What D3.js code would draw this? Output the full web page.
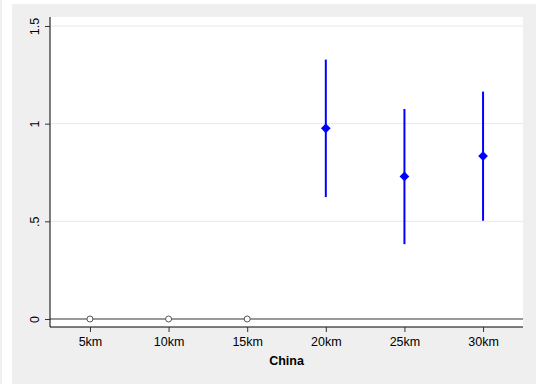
<!DOCTYPE html>
<html>
<head>
<meta charset="utf-8">
<script src="https://cdn.jsdelivr.net/npm/d3@7"></script>
<style>
  body { margin: 0; background: #fff; }
  svg { display: block; font-family: "Liberation Sans", Arial, sans-serif; }
</style>
</head>
<body>
<div id="chart-area"></div>
<script>
// data
const distances = [5, 10, 15, 20, 25, 30];
const tickLabels = ["5km", "10km", "15km", "20km", "25km", "30km"];
const estimates = [0, 0, 0, 0.976, 0.730, 0.834];
const lowerCI = [null, null, null, 0.624, 0.383, 0.503];
const upperCI = [null, null, null, 1.328, 1.075, 1.164];
const yTicks = [0, 0.5, 1, 1.5];
const yTickLabels = ["0", ".5", "1", "1.5"];
const xTitle = "China";

const W = 536, H = 384;
const MARGIN = { LEFT: 50, RIGHT: 13, TOP: 17, BOTTOM: 57 };
const WIDTH = W - MARGIN.LEFT - MARGIN.RIGHT;
const HEIGHT = H - MARGIN.TOP - MARGIN.BOTTOM;

const svg = d3.select("#chart-area").append("svg")
  .attr("width", W)
  .attr("height", H);

// outer frame
svg.append("rect").attr("width", W).attr("height", H).attr("fill", "#ffffff");
svg.append("rect").attr("x", 0).attr("y", 0).attr("width", 2).attr("height", H).attr("fill", "#efefef");
svg.append("rect").attr("x", 12).attr("y", 4).attr("width", W - 12).attr("height", H - 4).attr("fill", "#efefef");

const g = svg.append("g")
  .attr("transform", `translate(${MARGIN.LEFT}, ${MARGIN.TOP})`);

g.append("rect")
  .attr("width", WIDTH)
  .attr("height", HEIGHT)
  .attr("fill", "#ffffff");

// scales
const x = d3.scaleLinear().domain([2.46, 32.54]).range([0, WIDTH]);
const y = d3.scaleLinear().domain([-0.041, 1.546]).range([HEIGHT, 0]);

// gridlines
g.selectAll(".grid")
  .data(yTicks.filter(d => d !== 0))
  .enter().append("line")
  .attr("class", "grid")
  .attr("x1", 0).attr("x2", WIDTH)
  .attr("y1", d => y(d)).attr("y2", d => y(d))
  .attr("stroke", "#e8e8e8")
  .attr("stroke-width", 1);

// reference line at zero
g.append("line")
  .attr("x1", 0).attr("x2", WIDTH)
  .attr("y1", y(0)).attr("y2", y(0))
  .attr("stroke", "#777")
  .attr("stroke-width", 1.5);

// axes
const yAxisCall = d3.axisLeft(y)
  .tickValues(yTicks)
  .tickFormat((d, i) => yTickLabels[i])
  .tickSize(5)
  .tickSizeOuter(0);
const yAxis = g.append("g").call(yAxisCall);
yAxis.select(".domain").attr("stroke", "#000").attr("d", `M0,0V${HEIGHT}`);
yAxis.selectAll(".tick line").attr("stroke", "#333");
yAxis.selectAll(".tick text")
  .attr("x", 0).attr("dy", 0)
  .attr("transform", "translate(-11,0) rotate(-90)")
  .attr("text-anchor", "middle")
  .attr("font-size", "12.5px")
  .attr("fill", "#000");

const xAxisCall = d3.axisBottom(x)
  .tickValues(distances)
  .tickFormat((d, i) => tickLabels[i])
  .tickSize(5)
  .tickSizeOuter(0);
const xAxis = g.append("g")
  .attr("transform", `translate(0, ${HEIGHT})`)
  .call(xAxisCall);
xAxis.select(".domain").attr("stroke", "#000").attr("d", `M0,0H${WIDTH}`);
xAxis.selectAll(".tick line").attr("stroke", "#333");
xAxis.selectAll(".tick text")
  .attr("y", 10)
  .attr("font-size", "12.5px")
  .attr("fill", "#000");

g.append("text")
  .attr("x", WIDTH / 2)
  .attr("y", HEIGHT + 38)
  .attr("text-anchor", "middle")
  .attr("font-size", "12.5px")
  .attr("font-weight", "bold")
  .text(xTitle);

// build rows
const rows = distances.map((d, i) => ({
  dist: d, est: estimates[i], lo: lowerCI[i], hi: upperCI[i]
}));
const withCI = rows.filter(d => d.lo !== null);
const noCI = rows.filter(d => d.lo === null);

// confidence intervals
g.selectAll(".ci")
  .data(withCI)
  .enter().append("line")
  .attr("class", "ci")
  .attr("x1", d => x(d.dist)).attr("x2", d => x(d.dist))
  .attr("y1", d => y(d.lo)).attr("y2", d => y(d.hi))
  .attr("stroke", "#0000ff")
  .attr("stroke-width", 2);

// estimates
g.selectAll(".est")
  .data(withCI)
  .enter().append("path")
  .attr("class", "est")
  .attr("transform", d => `translate(${x(d.dist)}, ${y(d.est)})`)
  .attr("d", d3.symbol().type(d3.symbolDiamond2).size(60))
  .attr("fill", "#0000ff");

// omitted categories
g.selectAll(".omit")
  .data(noCI)
  .enter().append("circle")
  .attr("class", "omit")
  .attr("cx", d => x(d.dist))
  .attr("cy", d => y(d.est))
  .attr("r", 3)
  .attr("fill", "#fff")
  .attr("stroke", "#555")
  .attr("stroke-width", 1);
</script>
</body>
</html>
